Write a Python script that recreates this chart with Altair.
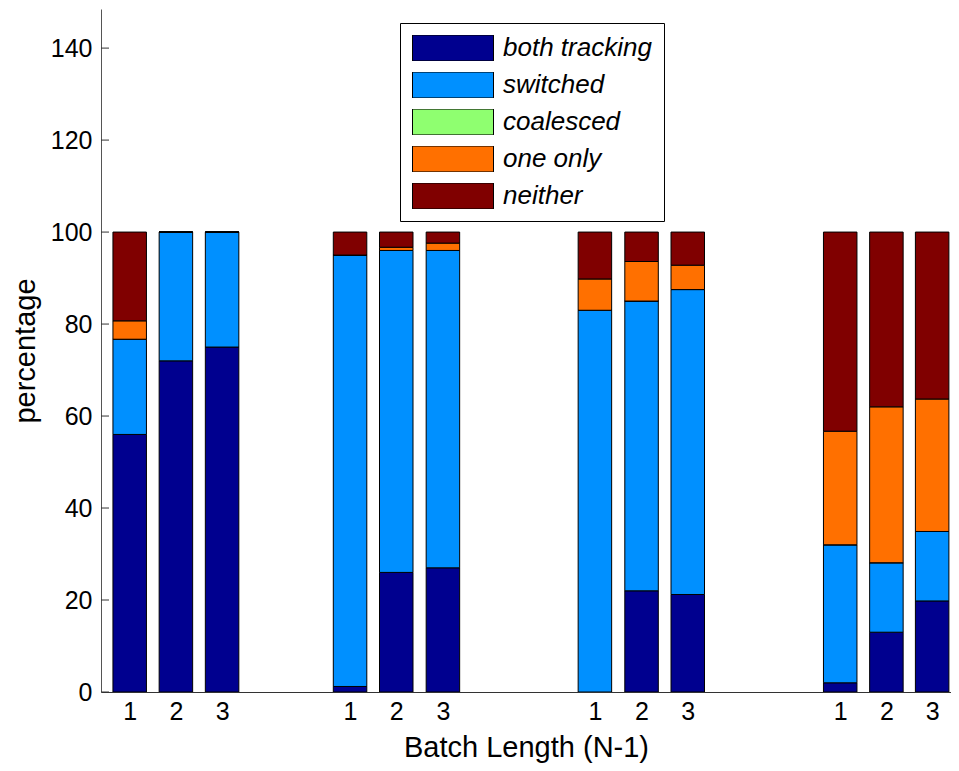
import json
import altair as alt
import pandas as pd

# ---- data ----
bar_pos = [1, 2, 3, 5.77, 6.77, 7.78, 11.07, 12.08, 13.08, 16.38, 17.38, 18.37]
batch_len = ["1", "2", "3", "1", "2", "3", "1", "2", "3", "1", "2", "3"]

categories = ["both tracking", "switched", "coalesced", "one only", "neither"]
colors = ["#00008F", "#0090FF", "#8FFF70", "#FF7000", "#800000"]

both_tracking = [56, 72, 75, 1.2, 26, 27, 0, 22, 21.2, 2, 13, 19.8]
switched = [20.7, 28, 25, 93.8, 70, 69, 83, 63, 66.3, 30, 15.1, 15.1]
coalesced = [0, 0, 0, 0, 0, 0, 0, 0, 0, 0, 0, 0]
one_only = [4, 0, 0, 0, 0.7, 1.6, 6.8, 8.6, 5.3, 24.7, 33.9, 28.8]
neither = [19.3, 0, 0, 5, 3.3, 2.4, 10.2, 6.4, 7.2, 43.3, 38, 36.3]

y_ticks = [0, 20, 40, 60, 80, 100, 120, 140]

series = [both_tracking, switched, coalesced, one_only, neither]

rows = []
for ci, (cat, vals) in enumerate(zip(categories, series)):
    for p, v in zip(bar_pos, vals):
        rows.append({"pos": p, "category": cat, "order": ci, "value": v})
df = pd.DataFrame(rows)
ticks_df = pd.DataFrame({"tick": y_ticks})

FONT = "Liberation Sans"


def key(v):
    return "%g" % v


label_map = {key(p): l for p, l in zip(bar_pos, batch_len)}
label_expr = json.dumps(label_map) + "[''+datum.value]"

x_scale = alt.Scale(domain=[0.487, 18.67], nice=False, zero=False)
y_scale = alt.Scale(domain=[0, 148.5], nice=False)

legend_symbol = "M-1,-0.32H1V0.32H-1Z"

bars = alt.Chart(df).mark_bar(
    size=33.5, stroke="black", strokeWidth=1, clip=True
).encode(
    x=alt.X(
        "pos:Q",
        scale=x_scale,
        axis=alt.Axis(
            values=bar_pos,
            labelExpr=label_expr,
            title="Batch Length (N-1)",
            ticks=False,
            grid=False,
            labelFontSize=25,
            labelPadding=7,
            titleFontSize=29,
            titleFontWeight="normal",
            titlePadding=9,
            domainColor="#333333",
            labelFont=FONT,
            titleFont=FONT,
            labelColor="black",
            titleColor="black",
            labelFlush=False,
        ),
    ),
    y=alt.Y(
        "value:Q",
        stack="zero",
        scale=y_scale,
        axis=alt.Axis(
            values=y_ticks,
            title="percentage",
            ticks=False,
            grid=False,
            labelFontSize=25,
            labelPadding=9,
            titleFontSize=29,
            titleFontWeight="normal",
            titlePadding=10,
            domainColor="#555555",
            labelFont=FONT,
            titleFont=FONT,
            labelColor="black",
            titleColor="black",
            labelFlush=False,
        ),
    ),
    color=alt.Color(
        "category:N",
        scale=alt.Scale(domain=categories, range=colors),
        legend=alt.Legend(
            title=None,
            orient="none",
            legendX=299,
            legendY=14,
            direction="vertical",
            symbolType=legend_symbol,
            symbolSize=6561,
            symbolStrokeColor="black",
            symbolStrokeWidth=1,
            symbolOpacity=1,
            clipHeight=26,
            rowPadding=11,
            labelOffset=9,
            labelFont=FONT,
            labelFontSize=26,
            labelFontStyle="italic",
            labelColor="black",
            padding=12,
            strokeColor="black",
            fillColor="white",
        ),
    ),
    order=alt.Order("order:Q", sort="ascending"),
)

inner_ticks = alt.Chart(ticks_df).mark_rule(color="#333333", strokeWidth=1).encode(
    y=alt.Y("tick:Q", scale=y_scale, title="percentage"),
    x=alt.value(0),
    x2=alt.value(8),
)

chart = alt.layer(bars, inner_ticks).properties(
    width=850,
    height=683,
    padding={"left": 93, "top": 1, "right": 0, "bottom": 71},
    autosize=alt.AutoSizeParams(type="none"),
    background="white",
).configure_view(strokeWidth=0)

chart.save("out.html", embed_options={"renderer": "svg", "actions": False})
